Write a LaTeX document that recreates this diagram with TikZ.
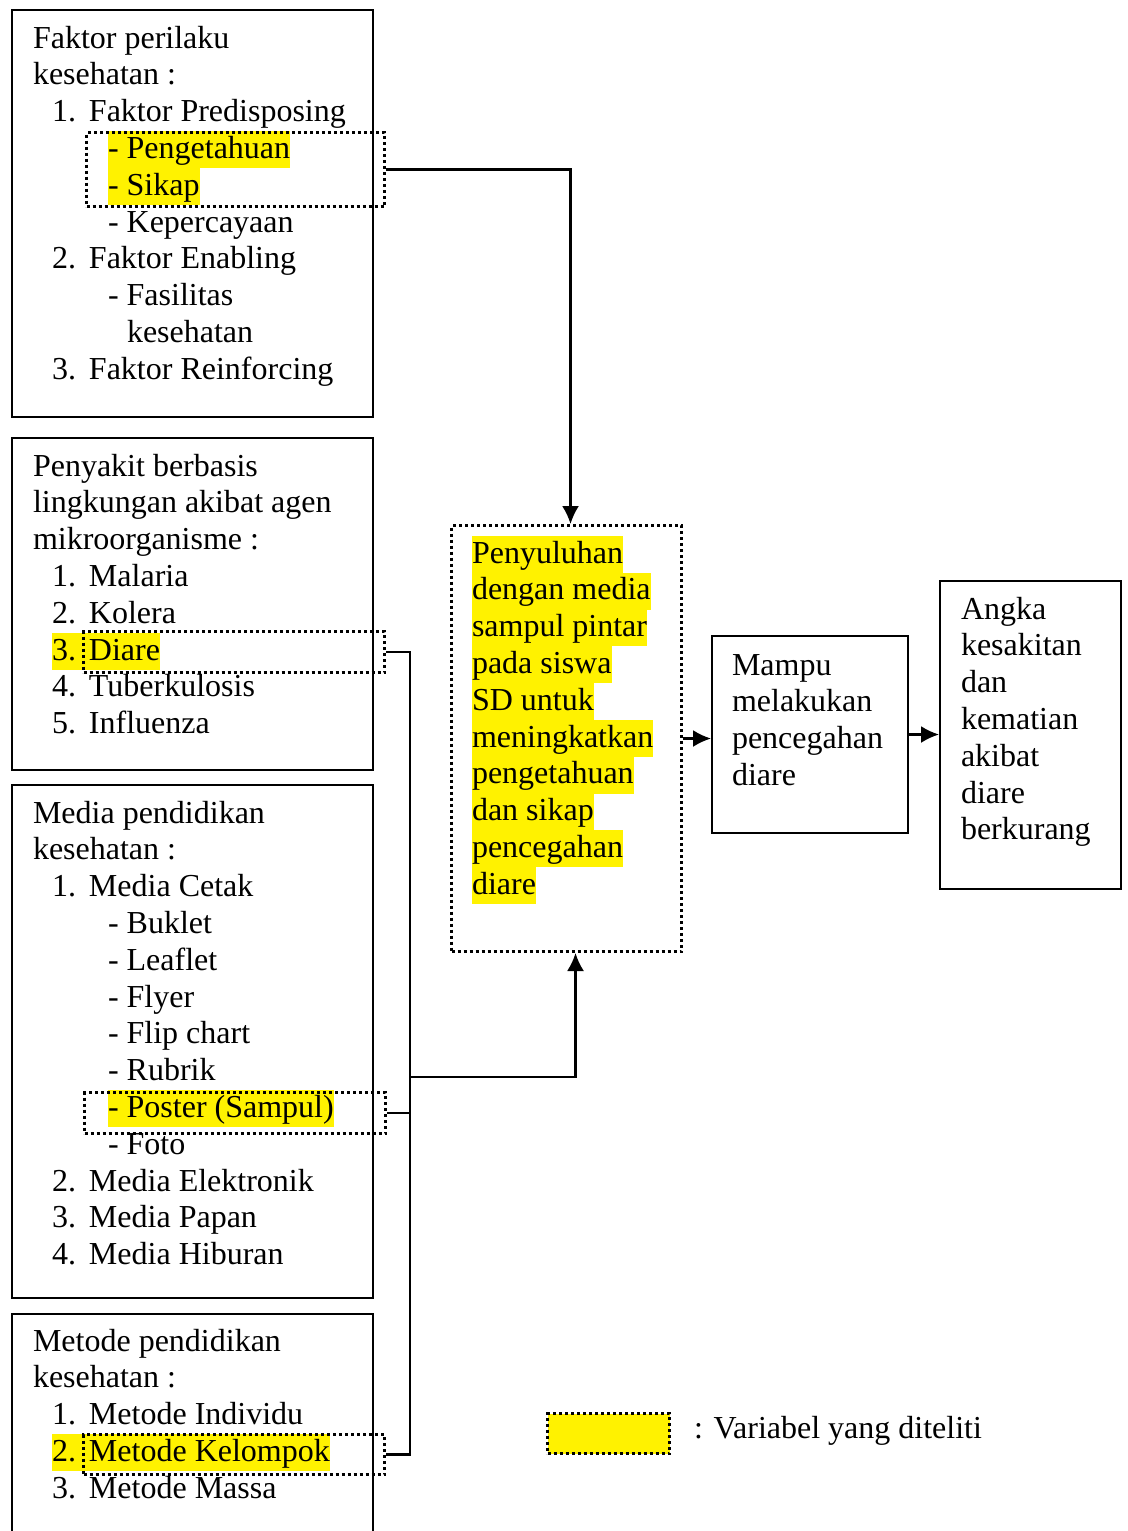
\documentclass[tikz,border=0pt]{standalone}
\usepackage{fontspec}
\setmainfont{Liberation Serif}
\usetikzlibrary{arrows.meta, positioning}

\newcommand{\itemno}[2]{\makebox[37pt][l]{#1}#2}

\begin{document}
\begin{tikzpicture}[x=1pt, y=-1pt, line width=2pt,
    font=\fontsize{32}{36.8}\selectfont]
    % Styles
    \tikzstyle{box} = [draw, rectangle, anchor=north west, inner sep=0pt]
    \tikzstyle{varbox} = [box, line width=3pt, dash pattern=on 3pt off 3pt]
    \tikzstyle{txt} = [anchor=base west, inner sep=0pt, text height=27pt, text depth=9.8pt]
    \tikzstyle{line} = [draw, line width=2.2pt]
    \tikzstyle{arrow} = [line, -{Latex[length=18pt, width=17pt]}]

    \useasboundingbox (0,0) rectangle (1127,1531);

    % Texts
    \foreach \xx/\fc/\txt [count=\i from 0] in {
        32/none/Faktor perilaku, 32/none/kesehatan :,
        51/none/\itemno{1.}{Faktor Predisposing},
        107/yellow/- Pengetahuan, 107/yellow/- Sikap, 107/none/- Kepercayaan,
        51/none/\itemno{2.}{Faktor Enabling},
        107/none/- Fasilitas, 126/none/kesehatan,
        51/none/\itemno{3.}{Faktor Reinforcing}}
        \node [txt, fill=\fc] (faktor-\i) at (\xx, 48+\i*36.8) {\txt};

    \foreach \xx/\fc/\txt [count=\i from 0] in {
        32/none/Penyakit berbasis, 32/none/lingkungan akibat agen, 32/none/mikroorganisme :,
        51/none/\itemno{1.}{Malaria}, 51/none/\itemno{2.}{Kolera},
        51/yellow/\itemno{3.}{Diare},
        51/none/\itemno{4.}{Tuberkulosis}, 51/none/\itemno{5.}{Influenza}}
        \node [txt, fill=\fc] (penyakit-\i) at (\xx, 476+\i*36.8) {\txt};

    \foreach \xx/\fc/\txt [count=\i from 0] in {
        32/none/Media pendidikan, 32/none/kesehatan :,
        51/none/\itemno{1.}{Media Cetak},
        107/none/- Buklet, 107/none/- Leaflet, 107/none/- Flyer,
        107/none/- Flip chart, 107/none/- Rubrik,
        107/yellow/- Poster (Sampul), 107/none/- Foto,
        51/none/\itemno{2.}{Media Elektronik}, 51/none/\itemno{3.}{Media Papan},
        51/none/\itemno{4.}{Media Hiburan}}
        \node [txt, fill=\fc] (media-\i) at (\xx, 823+\i*36.8) {\txt};

    \foreach \xx/\fc/\txt [count=\i from 0] in {
        32/none/Metode pendidikan, 32/none/kesehatan :,
        51/none/\itemno{1.}{Metode Individu},
        51/yellow/\itemno{2.}{Metode Kelompok},
        51/none/\itemno{3.}{Metode Massa}}
        \node [txt, fill=\fc] (metode-\i) at (\xx, 1351+\i*36.8) {\txt};

    \foreach \txt [count=\i from 0] in {Penyuluhan, dengan media, sampul pintar,
        pada siswa, SD untuk, meningkatkan, pengetahuan, dan sikap, pencegahan, diare}
        \node [txt, fill=yellow] (peny-\i) at (471, 563+\i*36.8) {\txt};

    \foreach \txt [count=\i from 0] in {Mampu, melakukan, pencegahan, diare}
        \node [txt] (mampu-\i) at (731, 675+\i*36.8) {\txt};

    \foreach \txt [count=\i from 0] in {Angka, kesakitan, dan, kematian, akibat, diare, berkurang}
        \node [txt] (angka-\i) at (960, 619+\i*36.8) {\txt};

    % Boxes
    \node [box, minimum width=361, minimum height=407] (faktor) at (11,9) {};
    \node [box, minimum width=361, minimum height=332] (penyakit) at (11,437) {};
    \node [box, minimum width=361, minimum height=513] (media) at (11,784) {};
    \node [box, minimum width=361, minimum height=240] (metode) at (11,1313) {};
    \node [box, minimum width=196, minimum height=197] (mampu) at (711,635) {};
    \node [box, minimum width=181, minimum height=308] (angka) at (939,580) {};

    % Variabel yang diteliti
    \node [varbox, minimum width=298, minimum height=74] (vsikap) at (85,131) {};
    \node [varbox, minimum width=301, minimum height=41] (vdiare) at (82,630) {};
    \node [varbox, minimum width=301, minimum height=41] (vposter) at (83,1091) {};
    \node [varbox, minimum width=301, minimum height=40] (vkelompok) at (82,1433) {};
    \node [varbox, minimum width=230, minimum height=426] (penyuluhan) at (450,524) {};

    % Edges
    \coordinate (bus) at (410,1077);
    \draw [arrow] (vsikap.east) -| ([xshift=4]penyuluhan.north);
    \draw [line] (vdiare.east) -- (vdiare.east -| bus) -- (vkelompok.east -| bus) -- (vkelompok.east);
    \draw [line] (vposter.east) -- (vposter.east -| bus);
    \draw [arrow] (bus) -| ([xshift=9]penyuluhan.south);
    \draw [arrow] (penyuluhan.east) -- (mampu.west |- penyuluhan.east);
    \draw [arrow] (mampu.east) -- (angka.west |- mampu.east);

    % Legend
    \node [varbox, fill=yellow, minimum width=122, minimum height=40] (legend) at (546,1412) {};
    \node [txt] (legend-txt) at (693,1438) {: Variabel yang diteliti};
\end{tikzpicture}
\end{document}
